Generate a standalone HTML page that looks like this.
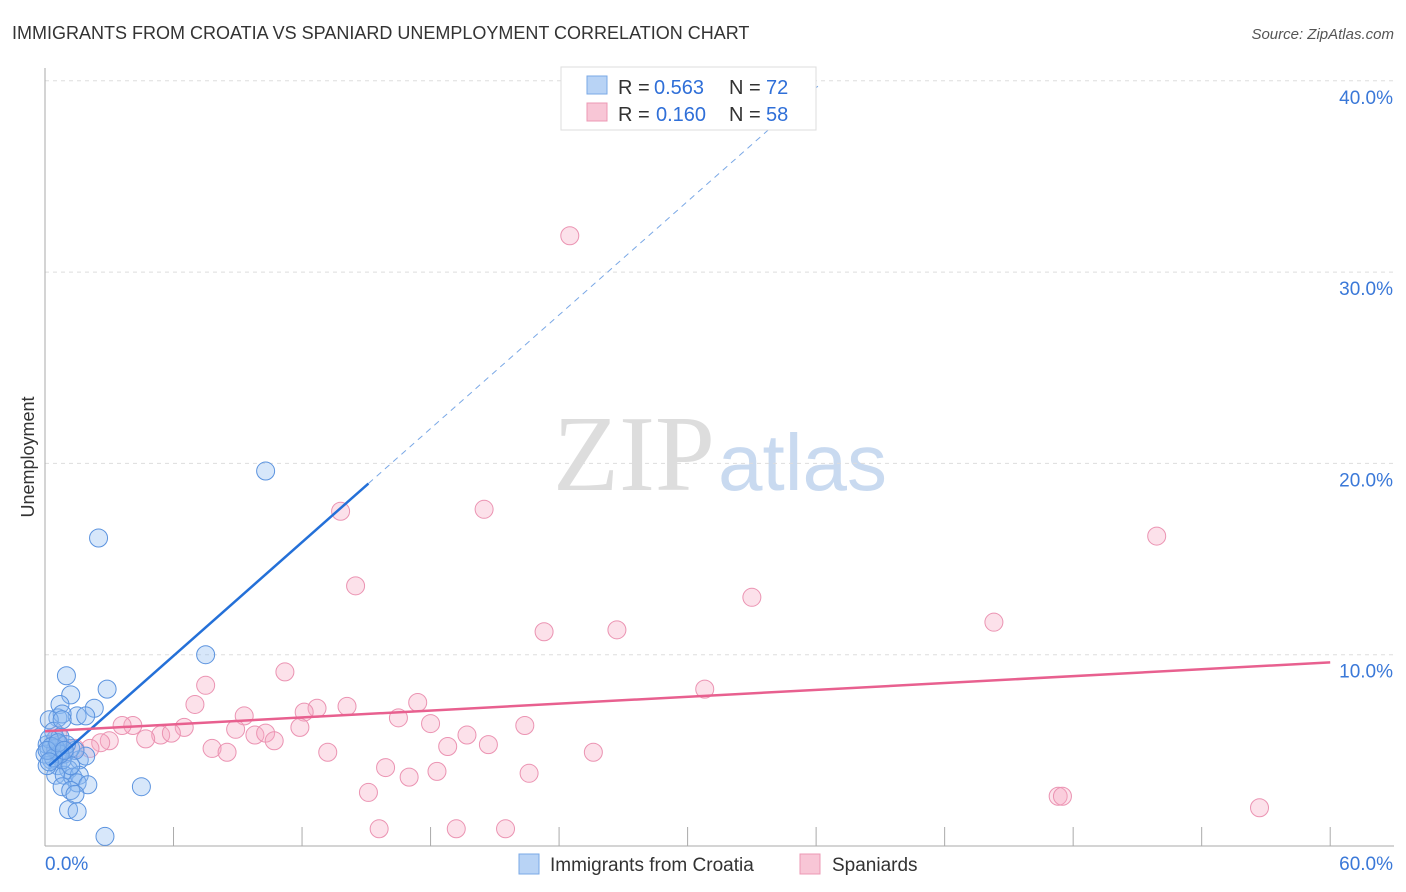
<!DOCTYPE html>
<html><head><meta charset="utf-8"><style>
body{margin:0;background:#fff;font-family:"Liberation Sans",sans-serif}
</style></head><body>
<svg id="c" width="1406" height="892" style="display:block">
<text x="12" y="39" font-size="18" fill="#333">IMMIGRANTS FROM CROATIA VS SPANIARD UNEMPLOYMENT CORRELATION CHART</text>
<text x="1394" y="39" font-size="15" fill="#555" text-anchor="end" font-style="italic">Source: ZipAtlas.com</text>
<text x="34" y="457" font-size="18" fill="#333" text-anchor="middle" transform="rotate(-90 34 457)">Unemployment</text>
<text x="553" y="490" font-size="108" fill="#ddd" font-family="Liberation Serif,serif">ZIP</text>
<text x="718" y="490" font-size="80" fill="#c9daf0">atlas</text>
<g id="grid"></g><g id="axes"></g><g id="pts"></g><g id="lines"></g>
<g>
<rect x="561" y="67" width="255" height="63" fill="#fff" stroke="#ddd"/>
<rect x="587" y="76" width="20" height="18" fill="#b8d3f5" stroke="#7aa8e6"/>
<rect x="587" y="103" width="20" height="18" fill="#f8c6d6" stroke="#ec98b4"/>
<text x="618" y="94" font-size="20" fill="#333">R =</text>
<text x="654" y="94" font-size="20" fill="#2f6fd8">0.563</text>
<text x="729" y="94" font-size="20" fill="#333">N =</text>
<text x="766" y="94" font-size="20" fill="#2f6fd8">72</text>
<text x="618" y="121" font-size="20" fill="#333">R =</text>
<text x="656" y="121" font-size="20" fill="#2f6fd8">0.160</text>
<text x="729" y="121" font-size="20" fill="#333">N =</text>
<text x="766" y="121" font-size="20" fill="#2f6fd8">58</text>
</g>
<g>
<rect x="519" y="854" width="20" height="20" fill="#b8d3f5" stroke="#7aa8e6"/>
<text x="550" y="871" font-size="19" fill="#333">Immigrants from Croatia</text>
<rect x="800" y="854" width="20" height="20" fill="#f8c6d6" stroke="#ec98b4"/>
<text x="832" y="871" font-size="19" fill="#333">Spaniards</text>
</g>
</svg>
<script>
const blueX=[10.3,2.5,7.5,1.0,2.9,1.2,2.3,0.7,1.5,1.9,0.6,0.8,0.2,0.5,0.7,0.2,0.9,0.3,0.6,1.6,1.9,1.2,1.4,1.1,0.5,0.9,1.3,1.6,1.5,2.0,0.8,1.2,1.4,1.1,1.5,4.5,2.8,0.1,0.4,0.7,0.0,0.6,0.8,1.2,0.1,0.8,1.0,0.5,0.7,0.2,0.3,0.4,0.1,0.6,0.9,0.2];
const blueY=[19.6,16.1,10.0,8.9,8.2,7.9,7.2,7.4,6.8,6.8,6.7,6.9,6.6,5.6,5.3,5.0,4.8,4.5,4.2,4.5,4.7,5.1,5.0,4.0,3.7,3.7,3.6,3.7,3.3,3.2,3.1,2.9,2.7,1.9,1.8,3.1,0.5,5.3,6.0,5.7,4.8,4.9,4.5,4.2,4.2,6.6,5.3,5.1,4.8,5.6,5.2,4.6,5.0,5.4,5.0,4.4];
const pinkX=[24.5,13.8,20.5,51.9,14.5,33.0,23.3,26.7,44.3,11.2,30.8,7.5,7.0,17.4,14.1,12.7,12.1,9.3,16.5,18.0,22.4,11.9,8.9,6.5,4.1,3.6,5.4,4.7,5.9,3.0,2.6,2.1,9.8,10.3,10.7,19.7,20.7,18.8,7.8,8.5,13.2,25.6,15.9,17.0,18.3,22.6,15.1,47.3,47.5,56.7,15.6,19.2,21.5,0.6,0.7,0.5,0.9,1.4];
const pinkY=[31.9,17.5,17.6,16.2,13.6,13.0,11.2,11.3,11.7,9.1,8.2,8.4,7.4,7.5,7.3,7.2,7.0,6.8,6.7,6.4,6.3,6.2,6.1,6.2,6.3,6.3,5.8,5.6,5.9,5.5,5.4,5.1,5.8,5.9,5.5,5.8,5.3,5.2,5.1,4.9,4.9,4.9,4.1,3.6,3.9,3.8,2.8,2.6,2.6,2.0,0.9,0.9,0.9,5.8,5.3,5.0,4.8,5.1];
const xTicks=[0,6,12,18,24,30,36,42,48,54,60];
const yTicks=[10,20,30,40];
const blueFit=[4.0,0.99], pinkFit=[6.0,0.06];
const X=v=>45+v*21.42, Y=v=>846-v*19.13;
const NS='http://www.w3.org/2000/svg';
function mk(t,a,p){const e=document.createElementNS(NS,t);for(const k in a)e.setAttribute(k,a[k]);p.appendChild(e);return e;}
const grid=document.getElementById('grid'),axes=document.getElementById('axes'),pts=document.getElementById('pts'),lines=document.getElementById('lines');
yTicks.forEach(t=>{const l=mk('line',{x1:45,x2:1394,y1:Y(t),y2:Y(t),stroke:'#ddd','stroke-dasharray':'4 4'},grid);


const tx=mk('text',{x:1393,y:Y(t)+23,'font-size':19,fill:'#3a78d8','text-anchor':'end'},axes);tx.textContent=t.toFixed(1)+'%';

});
const ax=mk('line',{x1:45,x2:1394,y1:846,y2:846,stroke:'#aaa'},axes);


const ay=mk('line',{x1:45,x2:45,y1:68,y2:846,stroke:'#aaa'},axes);


xTicks.forEach(t=>{const l=mk('line',{x1:X(t),x2:X(t),y1:827,y2:846,stroke:'#aaa'},axes);

});
[[0,'start',45],[60,'end',1393]].forEach(([t,a,px])=>{const tx=mk('text',{x:px,y:870,'font-size':19,fill:'#3a78d8','text-anchor':a},axes);tx.textContent=t.toFixed(1)+'%';

});
pinkX.forEach((v,i)=>{const c=mk('circle',{cx:X(v),cy:Y(pinkY[i]),r:9,fill:'rgba(246,170,196,0.35)',stroke:'#eb93b2','stroke-width':1},pts);

});
blueX.forEach((v,i)=>{const c=mk('circle',{cx:X(v),cy:Y(blueY[i]),r:9,fill:'rgba(140,185,240,0.35)',stroke:'#5b93df','stroke-width':1},pts);

});
const b1=mk('line',{x1:X(0.2),y1:Y(blueFit[0]+blueFit[1]*0.2),x2:X(15.1),y2:Y(blueFit[0]+blueFit[1]*15.1),stroke:'#2470d8','stroke-width':2.5},lines);


const b2=mk('line',{x1:X(15.1),y1:Y(blueFit[0]+blueFit[1]*15.1),x2:X(36.2),y2:Y(blueFit[0]+blueFit[1]*36.2),stroke:'#7aa8e6','stroke-width':1,'stroke-dasharray':'6 5'},lines);


const p1=mk('line',{x1:X(0),y1:Y(pinkFit[0]),x2:X(60),y2:Y(pinkFit[0]+pinkFit[1]*60),stroke:'#e8608f','stroke-width':2.5},lines);


</script>
</body></html>
